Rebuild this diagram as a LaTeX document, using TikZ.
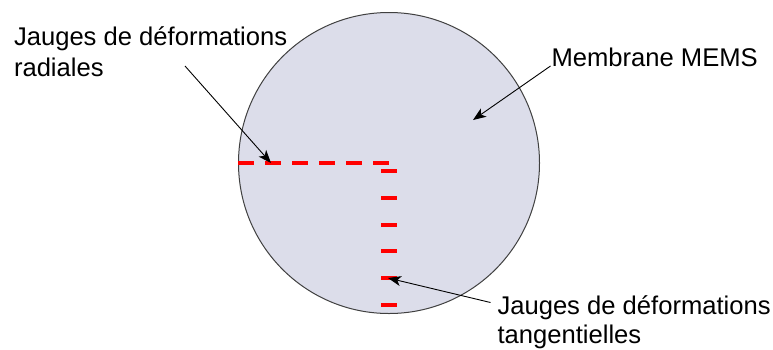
\documentclass[tikz,border=0pt]{standalone}
\usepackage{fontspec}
\setmainfont{Liberation Sans}
\usetikzlibrary{arrows.meta}
\definecolor{membfill}{RGB}{220,221,234}
\definecolor{gaugered}{RGB}{255,0,0}
\begin{document}
\begin{tikzpicture}[x=1pt,y=-1pt,
  lbl/.style={anchor=base west,inner sep=0pt,outer sep=0pt,align=left,font=\fontsize{25.6}{31}\selectfont},
  pointer/.style={draw=black,line width=0.9pt,-{Stealth[length=13pt,width=10pt,inset=3.5pt]}},
  gauge/.style={draw=gaugered,line width=4pt}]
\useasboundingbox (0,0) rectangle (773,349);
\fill[white] (0,0) rectangle (773,349);
\node[circle,draw=black!75,line width=1pt,fill=membfill,minimum size=301pt,inner sep=0pt] (memb) at (389,163) {};
% radial gauges
\coordinate (radA) at (238,163);
\coordinate (radB) at (389,163);
\draw[gauge,dash pattern=on 16pt off 11pt] (radA) -- (radB);
% tangential gauges
\foreach \i in {0,...,5} {
  \coordinate (tl\i) at (381,{171+26.8*\i});
  \coordinate (tr\i) at (397,{171+26.8*\i});
  \draw[gauge] (tl\i) -- (tr\i);
}
% labels (anchored at the baseline of their last line)
\node[lbl] (radlbl) at (14,76.7) {Jauges de déformations\\radiales};
\node[lbl] (memblbl) at (551.5,66.7) {Membrane MEMS};
\node[lbl,font=\fontsize{25.6}{29}\selectfont] (tanlbl) at (497.5,343.3) {Jauges de déformations\\tangentielles};
% arrows
\coordinate (radS) at (185,66);
\coordinate (radT) at (271,163);
\coordinate (membS) at (550.5,66);
\coordinate (membT) at (473,120);
\coordinate (tanS) at (490.5,302.5);
\coordinate (tanT) at (388,278);
\draw[pointer] (radS) -- (radT);
\draw[pointer] (membS) -- (membT);
\draw[pointer] (tanS) -- (tanT);
\end{tikzpicture}
\end{document}
